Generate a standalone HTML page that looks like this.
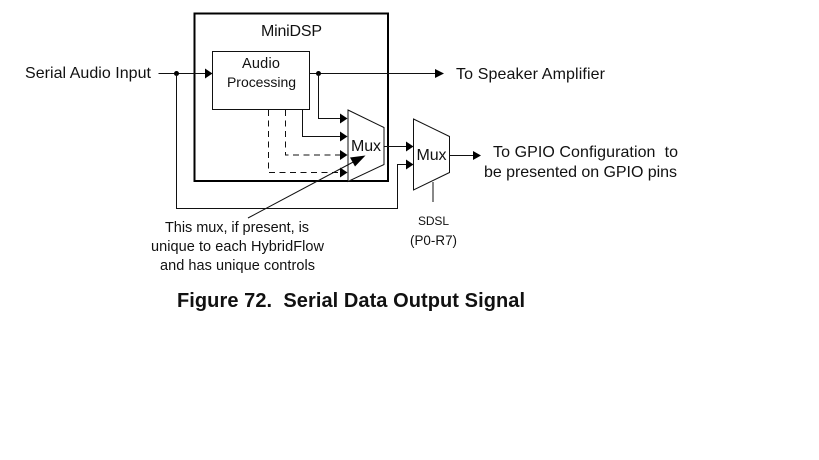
<!DOCTYPE html>
<html>
<head>
<meta charset="utf-8">
<style>
html,body{margin:0;padding:0;background:#fff;width:819px;height:460px;overflow:hidden}
svg{display:block}
text{fill:#111;white-space:pre}
.a{font-family:"Liberation Sans",sans-serif;font-size:16px}
.c{font-family:"Liberation Sans",sans-serif;font-size:14.500px}
.l{fill:none;stroke:#111;stroke-width:1}
.d{fill:none;stroke:#111;stroke-width:1;stroke-dasharray:6 4.5}
.h{fill:#000;stroke:none}
</style>
</head>
<body>
<svg width="819" height="460" viewBox="0 0 819 460" xmlns="http://www.w3.org/2000/svg">
<rect x="194.500" y="13.500" width="193.500" height="167.500" fill="none" stroke="#000" stroke-width="2"/>
<rect x="212.500" y="51.500" width="97" height="58" fill="none" stroke="#111" stroke-width="1"/>

<text class="a" x="261" y="36" textLength="61">MiniDSP</text>
<text class="c" x="242" y="68" textLength="38">Audio</text>
<text class="c" x="227" y="87" textLength="69" style="font-size:14px">Processing</text>

<text class="a" x="25" y="78" textLength="126">Serial Audio Input</text>
<text class="a" x="456" y="79" textLength="149">To Speaker Amplifier</text>
<text class="a" x="493" y="157" textLength="185">To GPIO Configuration  to</text>
<text class="a" x="484" y="177" textLength="193">be presented on GPIO pins</text>

<path class="l" d="M158.500 73.500H206"/>
<path class="h" d="M205 68.500L212.500 73.500L205 78.500Z"/>
<circle cx="176.500" cy="73.500" r="2.500" fill="#000"/>
<path class="l" d="M176.500 73.500V208.500H397.500V164.500H407"/>
<path class="h" d="M406 159.500L413.500 164.500L406 169.500Z"/>

<path class="l" d="M309.500 73.500H436"/>
<path class="h" d="M435 69L444 73.500L435 78Z"/>
<circle cx="318.500" cy="73.500" r="2.500" fill="#000"/>

<path class="l" d="M318.500 73.500V118.500H341"/>
<path class="h" d="M340 113.500L347.500 118.500L340 123.500Z"/>
<path class="l" d="M302.500 109.500V136.500H341"/>
<path class="h" d="M340 131.500L347.500 136.500L340 141.500Z"/>
<path class="d" d="M285.500 110V155H341"/>
<path class="h" d="M340 150L347.500 155L340 160Z"/>
<path class="d" d="M268.500 110V172.500H341"/>
<path class="h" d="M340 167.500L347.500 172.500L340 177.500Z"/>

<path d="M348 110L384 127.500V164.500L348 181.500Z" fill="#fff" stroke="#111" stroke-width="1"/>
<text class="c" x="351" y="151" textLength="30" style="font-size:16px">Mux</text>

<path class="l" d="M384 146.500H407"/>
<path class="h" d="M406 141.500L413.500 146.500L406 151.500Z"/>

<path d="M413.500 119L449.500 136.500V172.500L413.500 190Z" fill="#fff" stroke="#111" stroke-width="1"/>
<text class="c" x="416.500" y="160" textLength="30" style="font-size:16px">Mux</text>

<path class="l" d="M449.500 155.500H474"/>
<path class="h" d="M473 151L481 155.500L473 160Z"/>
<path class="l" d="M433 182V202"/>

<path class="l" d="M248 218L357 160"/>
<path class="h" d="M365.500 155.500L350 157.500L355 166.500Z"/>

<text class="c" x="165" y="232" textLength="144">This mux, if present, is</text>
<text class="c" x="151" y="251" textLength="173">unique to each HybridFlow</text>
<text class="c" x="160" y="270" textLength="155">and has unique controls</text>
<text class="c" x="418" y="225" textLength="31" style="font-size:12px">SDSL</text>
<text class="c" x="410" y="245" textLength="47" style="font-size:13.400px">(P0-R7)</text>

<text x="177" y="307" textLength="348" style="font-family:'Liberation Sans',sans-serif;font-weight:bold;font-size:20px">Figure 72.  Serial Data Output Signal</text>
</svg>
</body>
</html>
